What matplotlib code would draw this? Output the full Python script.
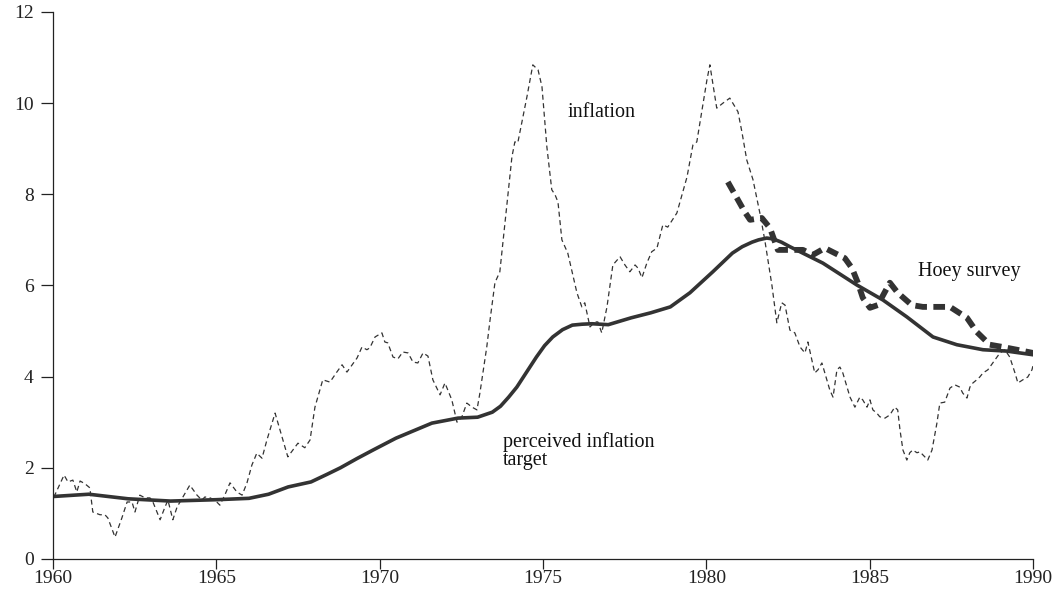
import matplotlib
matplotlib.use("Agg")
import matplotlib.pyplot as plt

plt.rcParams['font.family'] = ['Liberation Serif', 'DejaVu Serif']

# ---- data ----
infl_t = [1960.03, 1960.34, 1960.46, 1960.61, 1960.73, 1960.83, 1960.98, 1961.13, 1961.22, 1961.44,
          1961.59, 1961.68, 1961.90, 1962.11, 1962.27, 1962.42, 1962.51, 1962.66, 1962.82, 1962.97,
          1963.06, 1963.28, 1963.43, 1963.52, 1963.67, 1963.80, 1963.98, 1964.19, 1964.41, 1964.56,
          1964.65, 1964.81, 1964.96, 1965.11, 1965.26, 1965.42, 1965.63, 1965.79, 1965.94, 1966.09,
          1966.24, 1966.40, 1966.55, 1966.80, 1967.19, 1967.50, 1967.71, 1967.87, 1968.02, 1968.26,
          1968.48, 1968.69, 1968.85, 1969.00, 1969.31, 1969.46, 1969.61, 1969.70, 1969.86, 1970.07,
          1970.16, 1970.25, 1970.41, 1970.56, 1970.71, 1970.87, 1971.02, 1971.17, 1971.33, 1971.48,
          1971.63, 1971.85, 1972.00, 1972.21, 1972.37, 1972.52, 1972.67, 1972.83, 1972.98, 1973.07,
          1973.28, 1973.38, 1973.53, 1973.68, 1974.05, 1974.14, 1974.23, 1974.51, 1974.69, 1974.85,
          1974.97, 1975.12, 1975.27, 1975.37, 1975.46, 1975.58, 1975.76, 1976.04, 1976.19, 1976.28,
          1976.44, 1976.59, 1976.68, 1976.80, 1976.96, 1977.14, 1977.36, 1977.51, 1977.66, 1977.82,
          1977.91, 1978.03, 1978.18, 1978.33, 1978.49, 1978.67, 1978.82, 1979.10, 1979.41, 1979.59,
          1979.71, 1980.02, 1980.11, 1980.32, 1980.51, 1980.72, 1980.97, 1981.09, 1981.24, 1981.43,
          1981.64, 1981.79, 1982.01, 1982.16, 1982.31, 1982.41, 1982.56, 1982.71, 1982.87, 1983.02,
          1983.11, 1983.23, 1983.32, 1983.42, 1983.54, 1983.63, 1983.78, 1983.88, 1984.00, 1984.09,
          1984.18, 1984.40, 1984.55, 1984.70, 1984.79, 1984.92, 1985.01, 1985.10, 1985.22, 1985.31,
          1985.47, 1985.62, 1985.77, 1985.86, 1985.93, 1986.02, 1986.14, 1986.23, 1986.32, 1986.45,
          1986.54, 1986.69, 1986.78, 1986.91, 1987.06, 1987.15, 1987.30, 1987.46, 1987.61, 1987.76,
          1987.85, 1987.98, 1988.07, 1988.16, 1988.28, 1988.37, 1988.47, 1988.62, 1988.77, 1988.99,
          1989.14, 1989.29, 1989.45, 1989.54, 1989.69, 1989.84, 1989.97, 1990.06, 1990.12]
infl_v = [1.36, 1.84, 1.69, 1.73, 1.47, 1.71, 1.65, 1.56, 1.03, 0.97,
          0.97, 0.90, 0.48, 0.90, 1.25, 1.25, 1.03, 1.40, 1.34, 1.34,
          1.25, 0.86, 1.14, 1.29, 0.86, 1.14, 1.36, 1.62, 1.40, 1.29,
          1.36, 1.34, 1.29, 1.18, 1.40, 1.67, 1.47, 1.40, 1.67, 2.06,
          2.32, 2.21, 2.61, 3.20, 2.24, 2.54, 2.44, 2.61, 3.33, 3.93,
          3.88, 4.10, 4.26, 4.10, 4.41, 4.65, 4.59, 4.63, 4.87, 4.96,
          4.76, 4.74, 4.43, 4.39, 4.54, 4.52, 4.32, 4.30, 4.52, 4.45,
          3.93, 3.60, 3.86, 3.49, 3.00, 3.12, 3.42, 3.33, 3.27, 3.64,
          4.65, 5.24, 6.06, 6.30, 8.82, 9.15, 9.13, 10.14, 10.84, 10.73,
          10.36, 9.04, 8.10, 7.99, 7.83, 7.00, 6.71, 5.84, 5.53, 5.62,
          5.09, 5.20, 5.20, 4.96, 5.53, 6.45, 6.63, 6.45, 6.30, 6.45,
          6.38, 6.17, 6.49, 6.74, 6.82, 7.33, 7.28, 7.59, 8.38, 9.08,
          9.15, 10.51, 10.84, 9.89, 10.00, 10.11, 9.81, 9.37, 8.75, 8.32,
          7.59, 7.00, 6.00, 5.18, 5.62, 5.57, 5.02, 4.96, 4.65, 4.52,
          4.76, 4.37, 4.08, 4.15, 4.30, 4.08, 3.71, 3.55, 4.15, 4.21,
          4.08, 3.55, 3.33, 3.55, 3.49, 3.33, 3.49, 3.27, 3.20, 3.12,
          3.09, 3.16, 3.33, 3.27, 2.83, 2.39, 2.17, 2.33, 2.39, 2.33,
          2.35, 2.24, 2.17, 2.39, 2.98, 3.42, 3.44, 3.75, 3.82, 3.77,
          3.64, 3.53, 3.77, 3.86, 3.93, 3.99, 4.08, 4.15, 4.30, 4.52,
          4.59, 4.43, 4.08, 3.86, 3.93, 3.99, 4.15, 4.41, 4.08]

target_t = [1960.0, 1961.1, 1962.3, 1963.6, 1965.0, 1966.0, 1966.6, 1967.2, 1967.9, 1968.4,
            1968.8, 1969.3, 1969.8, 1970.5, 1971.0, 1971.6, 1972.4, 1973.0, 1973.45, 1973.7,
            1973.95, 1974.2, 1974.5, 1974.8, 1975.05, 1975.3, 1975.6, 1975.9, 1976.2, 1976.5,
            1977.0, 1977.7, 1978.3, 1978.9, 1979.5, 1980.2, 1980.8, 1981.1, 1981.4, 1981.6,
            1981.85, 1982.05, 1982.3, 1982.56, 1983.57, 1984.61, 1985.41, 1986.14, 1986.94,
            1987.67, 1988.47, 1989.2, 1990.0, 1990.12]
target_v = [1.37, 1.42, 1.32, 1.27, 1.30, 1.33, 1.42, 1.58, 1.69, 1.86,
            2.00, 2.20, 2.39, 2.65, 2.80, 2.98, 3.09, 3.11, 3.22, 3.35,
            3.55, 3.77, 4.10, 4.43, 4.68, 4.87, 5.03, 5.13, 5.15, 5.16,
            5.14, 5.29, 5.40, 5.53, 5.84, 6.30, 6.71, 6.85, 6.95, 7.00,
            7.04, 7.02, 6.95, 6.85, 6.49, 6.01, 5.68, 5.31, 4.87,
            4.70, 4.59, 4.56, 4.48, 4.47]

hoey_t = [1980.66, 1981.18, 1981.34, 1981.70, 1981.95, 1982.19, 1982.96, 1983.26, 1983.63, 1984.24,
          1984.46, 1984.64, 1984.79, 1985.01, 1985.25, 1985.62, 1985.86, 1986.29, 1986.63, 1987.46,
          1987.98, 1988.28, 1988.68, 1989.08, 1989.51, 1990.00]
hoey_v = [8.27, 7.61, 7.44, 7.48, 7.26, 6.78, 6.78, 6.67, 6.82, 6.60,
          6.38, 6.06, 5.73, 5.51, 5.57, 6.06, 5.84, 5.57, 5.53, 5.53,
          5.29, 4.98, 4.70, 4.65, 4.59, 4.52]

x_ticks = [1960, 1965, 1970, 1975, 1980, 1985, 1990]
y_ticks = [0, 2, 4, 6, 8, 10, 12]

# ---- figure ----
fig = plt.figure(figsize=(10.59, 5.89), dpi=100)
ax = fig.add_axes([0.050, 0.051, 0.9254, 0.9287])

col = '#333333'
ax.plot(infl_t, infl_v, color=col, lw=0.9, linestyle=(0, (4.0, 2.8)))
ax.plot(target_t, target_v, color=col, lw=2.6, solid_capstyle='round', solid_joinstyle='round')
ax.plot(hoey_t, hoey_v, color=col, lw=4.2, linestyle=(0, (2.0, 1.1)), dash_capstyle='butt')

ax.set_xlim(1960, 1990)
ax.set_ylim(0, 12)
ax.set_xticks(x_ticks)
ax.set_yticks(y_ticks)
ax.set_xticklabels([str(v) for v in x_ticks])
ax.set_yticklabels([str(v) for v in y_ticks])

for s in ['top', 'right']:
    ax.spines[s].set_visible(False)
for s in ['left', 'bottom']:
    ax.spines[s].set_color('#222222')
    ax.spines[s].set_linewidth(0.9)
ax.tick_params(axis='both', direction='out', colors='#222222', labelsize=14, width=0.9)
ax.tick_params(axis='y', length=9, pad=5)
ax.tick_params(axis='x', length=7, pad=1)

ax.text(1975.75, 9.8, 'inflation', fontsize=14.5, color='#111111', ha='left', va='center')
ax.text(1973.77, 2.78, 'perceived inflation\ntarget', fontsize=14.5, color='#111111',
        ha='left', va='top', linespacing=0.95)
ax.text(1986.48, 6.3, 'Hoey survey', fontsize=14.5, color='#111111', ha='left', va='center')

fig.savefig('out.png', dpi=100)
